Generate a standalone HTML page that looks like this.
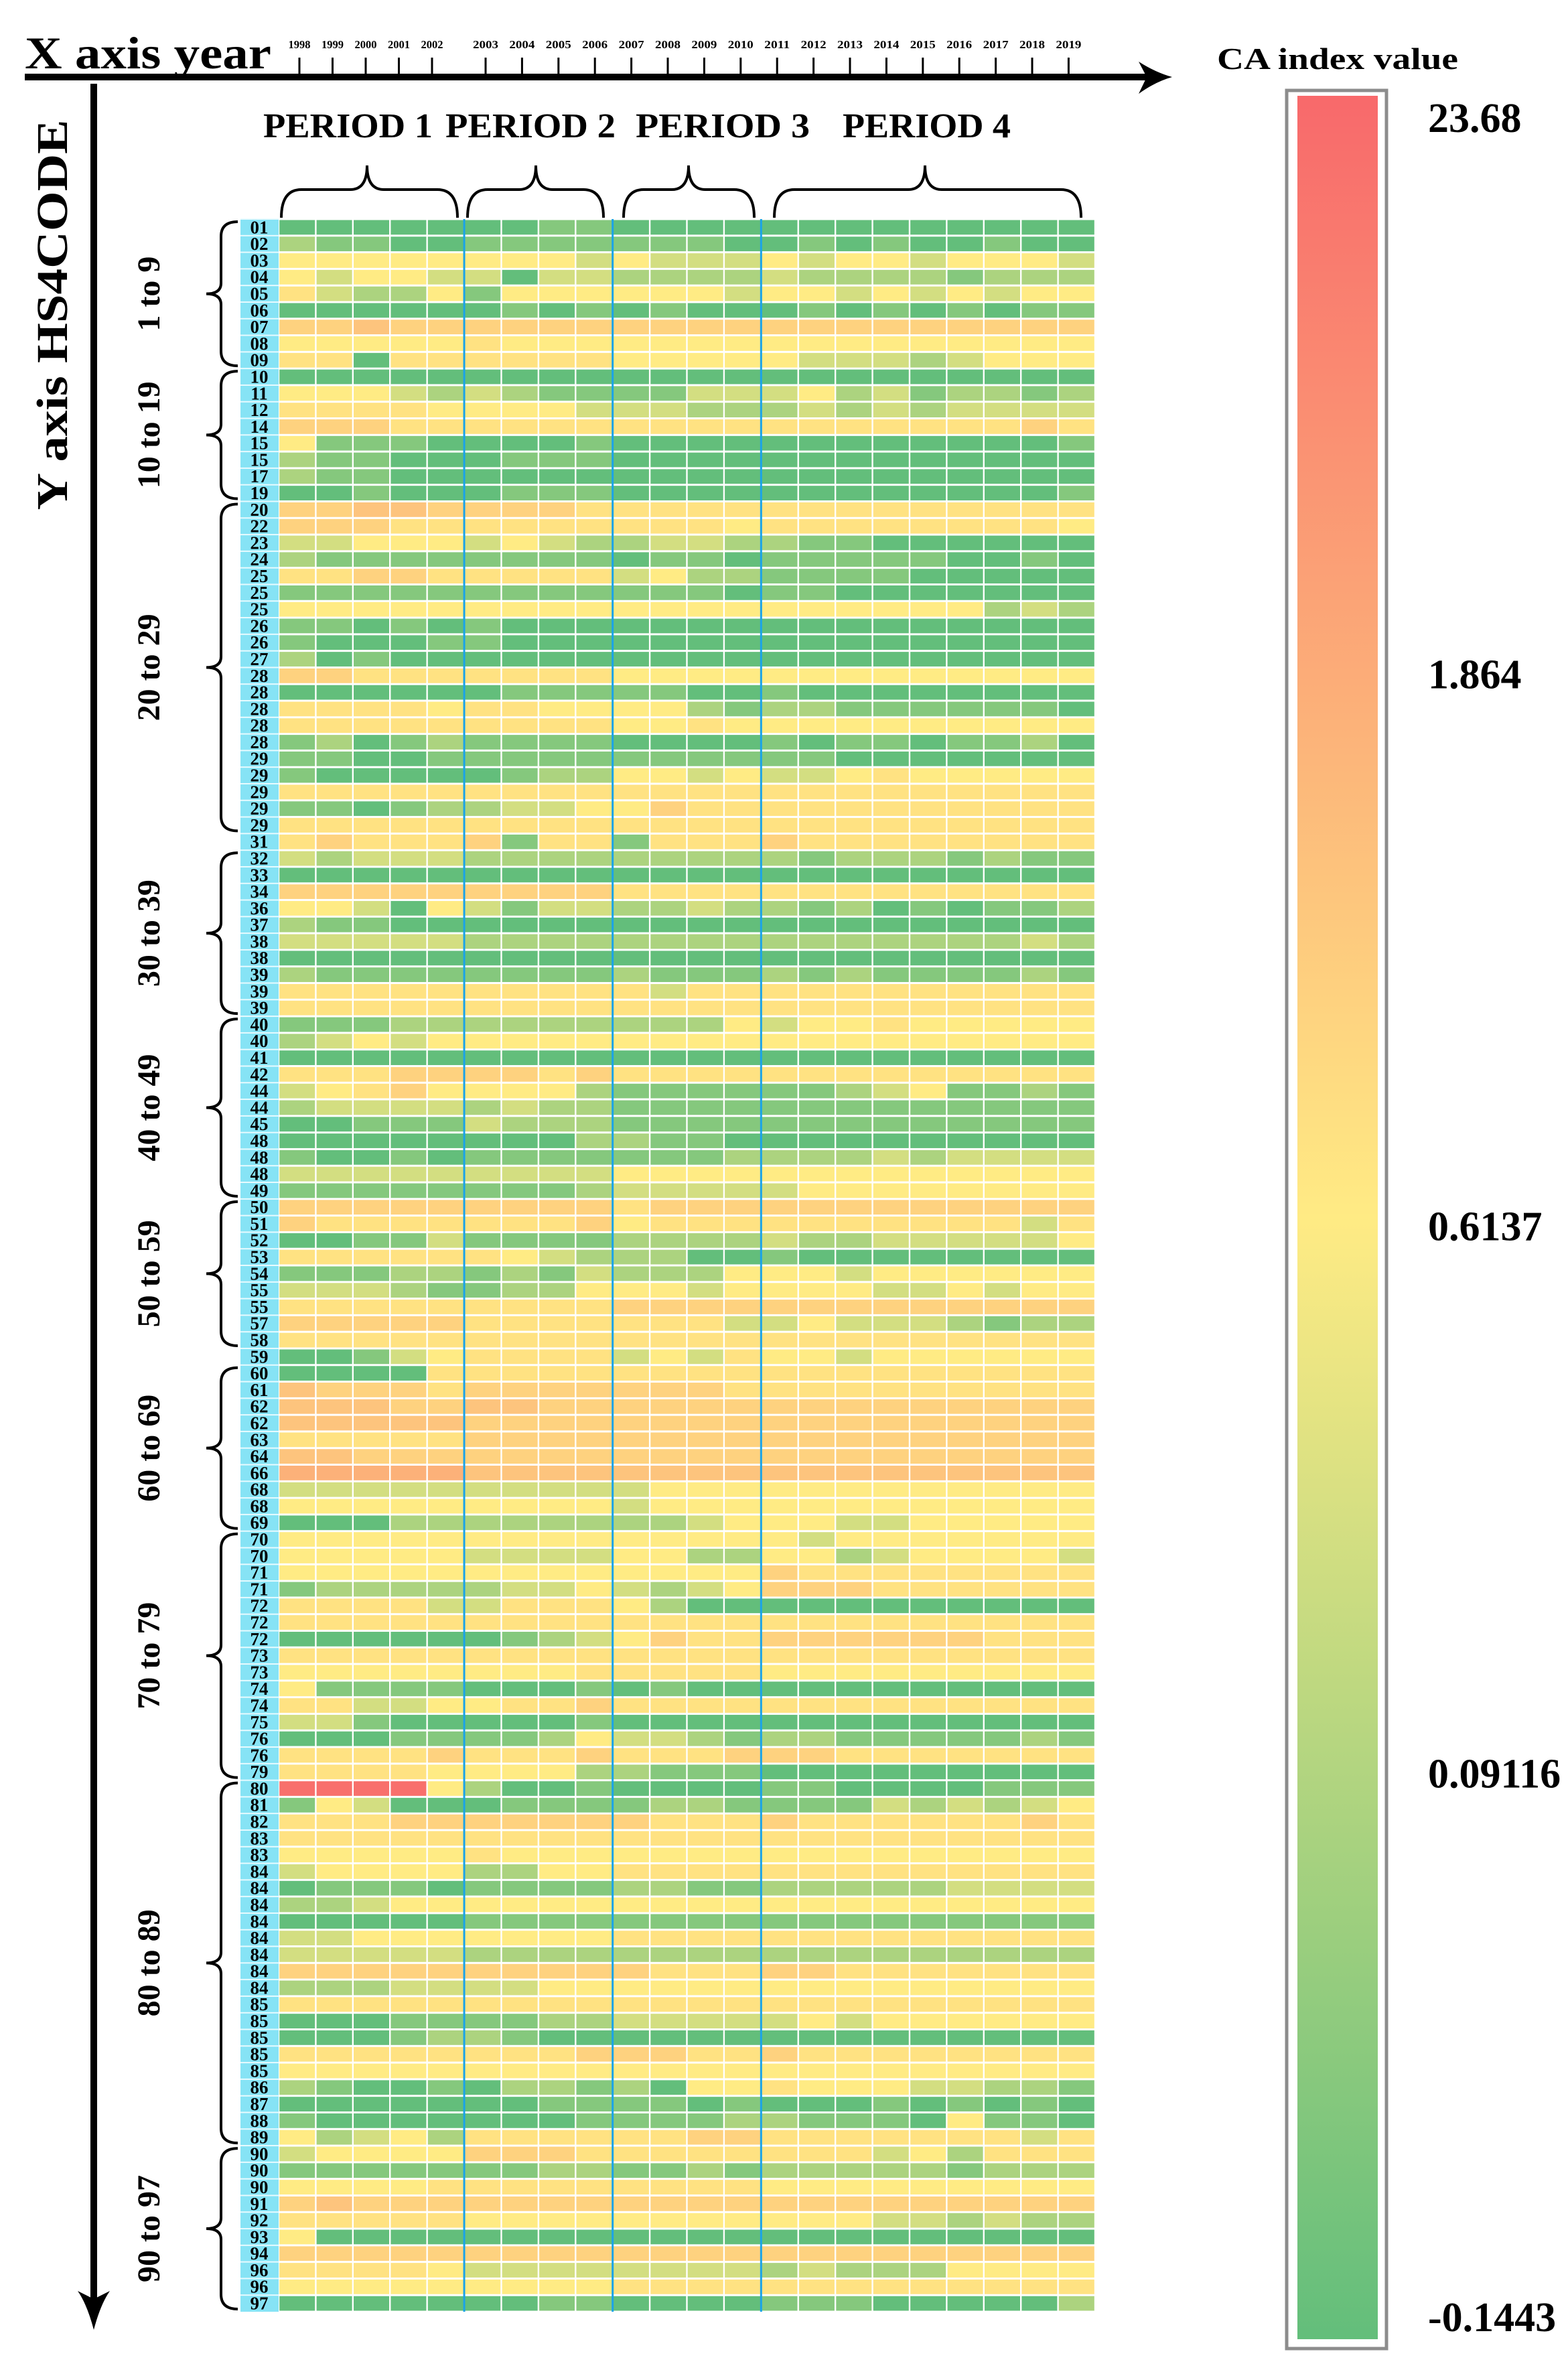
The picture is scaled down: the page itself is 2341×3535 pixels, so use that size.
<!DOCTYPE html>
<html><head><meta charset="utf-8"><title>CA index heatmap</title>
<style>
html,body{margin:0;padding:0;background:#fff;}
svg{display:block;font-family:"Liberation Serif",serif;font-weight:bold;}
</style></head>
<body>
<svg id="chart" xmlns="http://www.w3.org/2000/svg" width="2341" height="3535" viewBox="0 0 2341 3535">
  <defs>
    <linearGradient id="cbar" x1="0" y1="0" x2="0" y2="1">
      <stop offset="0" stop-color="#f8696b"/>
      <stop offset="0.5" stop-color="#ffeb84"/>
      <stop offset="1" stop-color="#63be7b"/>
    </linearGradient>
  </defs>
  <rect x="0" y="0" width="2341" height="3535" fill="#fff"/>
  <text x="37" y="102" font-size="68" textLength="368" lengthAdjust="spacingAndGlyphs">X axis year</text>
  <rect x="37" y="110" width="1680" height="10" fill="#000"/>
  <path d="M1700,92 Q1725,108 1750,115 Q1725,122 1700,140 L1712,115 Z" fill="#000"/>
  <text transform="translate(100,470) rotate(-90)" text-anchor="middle" font-size="66" textLength="583" lengthAdjust="spacingAndGlyphs">Y axis HS4CODE</text>
  <rect x="135" y="125" width="10" height="3320" fill="#000"/>
  <path d="M116,3420 Q130,3440 140,3478 Q150,3440 164,3420 L140,3432 Z" fill="#000"/>
  <text x="393" y="205" font-size="52" textLength="253" lengthAdjust="spacingAndGlyphs">PERIOD 1</text>
  <text x="665" y="205" font-size="52" textLength="254" lengthAdjust="spacingAndGlyphs">PERIOD 2</text>
  <text x="949" y="205" font-size="52" textLength="260" lengthAdjust="spacingAndGlyphs">PERIOD 3</text>
  <text x="1258" y="205" font-size="52" textLength="251" lengthAdjust="spacingAndGlyphs">PERIOD 4</text>
  <g fill="none" stroke="#000" stroke-width="4">
    <path d="M420,325 Q420,283 450,283 L523,283 Q548,283 548,247 Q548,283 573,283 L653,283 Q683,283 683,325"/>
    <path d="M698,325 Q698,283 728,283 L775,283 Q800,283 800,247 Q800,283 825,283 L871,283 Q901,283 901,325"/>
    <path d="M931,325 Q931,283 961,283 L1003,283 Q1028,283 1028,247 Q1028,283 1053,283 L1096,283 Q1126,283 1126,325"/>
    <path d="M1156,325 Q1156,283 1186,283 L1356,283 Q1381,283 1381,247 Q1381,283 1406,283 L1584,283 Q1614,283 1614,325"/>
  </g>
  <text x="1817" y="103" font-size="46" textLength="360" lengthAdjust="spacingAndGlyphs">CA index value</text>
  <rect x="1921" y="135" width="149" height="3371" fill="#fff" stroke="#8c8c8c" stroke-width="5"/>
  <rect x="1937" y="143" width="120" height="3349" fill="url(#cbar)"/>
  <g id="cbLabels" font-size="62"></g>
  <g id="heat"></g>
</svg>
<script>
const years = ["1998","1999","2000","2001","2002","2003","2004","2005","2006","2007","2008","2009","2010","2011","2012","2013","2014","2015","2016","2017","2018","2019"];
const hsCodes = ["01","02","03","04","05","06","07","08","09","10","11","12","14","15","15","17","19",
"20","22","23","24","25","25","25","26","26","27","28","28","28","28","28","29","29","29","29","29","31",
"32","33","34","36","37","38","38","39","39","39",
"40","40","41","42","44","44","45","48","48","48","49",
"50","51","52","53","54","55","55","57","58",
"59","60","61","62","62","63","64","66","68","68","69",
"70","70","71","71","72","72","72","73","73","74","74","75","76","76","79",
"80","81","82","83","83","84","84","84","84","84","84","84","84","85","85","85","85","85","86","87","88","89",
"90","90","90","91","92","93","94","96","96","97"];
const caLevels = [
"0000000110000000000000","2110011111110010100100","4444444434333434434443","4344330332222322221222",
"5322414444443443434344","0000001010100010101011","6676666666666666666666","4444454444444444444444",
"5505555554444433323444","0000000000000000000000","4443232111133342312212","5555444433322232323333",
"6665555555555555555565","4111000010000000000001","2110001110000000000000","2110000000000000000000",
"0010001110000000000001","6677666655555555555555","6665555555554555555554","3344434322332211000000",
"2111111110110111110010","5566555553422111100000","1111111111110110000000","4444444444444444444232",
"1101010000000000000000","1000110000000000000000","2010000000000000000000","6655555554444444444444",
"0000001111100100000000","5555455444421221111110","5555555554454444444444","1201211110000101101120",
"1100111111111110000000","1000001224434334544444","5555555555555555555555","1101223344655555555555",
"5555555555555555555555","5655561551555655555555","3233322222222212221211","0000000000000000000000",
"6666666665555555555555","4430431332232212010112","2110000000000000000000","3333322222222222222232",
"0000000000000000000000","2111111112111212111121","5555555555355555555555","5555555555555555555555",
"1112222222224344544444","2343444444444444444444","0000000000000000000000","5556666565555555555555",
"3456444421111112341121","2333323221111111111111","0011132221111111111111","0000000022110000000000",
"1001011111112222323333","3333333334444444444444","1111111123333344444444","6666666665666666666666",
"6555555564555555555535","0011311112222322333334","5555554322200100000000","1112212132224443444444",
"3332112244434444334344","5555555556666666666666","6666655555553343332122","5555555555555555555555",
"0013455553435443444444","0000555555555555555555","7666566666665555555555","7776677666666666666666",
"7777766666666666666666","5555566666666666666666","7766666666666666666666","8888877777777777777777",
"3333333333444444444444","4444444443444444444444","0002222222234443344444","4444444444444434444444",
"4444433334422442344443","4444444444444655555555","1222223343234666555555","5555335554200000000000",
"5555555555555555555555","0000001234655666666555","5555555555555555555555","4444444455555444444444",
"4111100010100000000000","5533445565555555555555","3310000010000000000000","0001111243321221111121",
"5555655565556665555555","5555444422111000000000","9999420010000110000111","1430001111221111323234",
"5556666666555655555565","5555555555555555555555","4444454444444444444444","3444422445555555555555",
"0111011112211222223333","2234444444444444444444","0000011111111111111111","3344444445555555555555",
"3333322222222222222222","6666666666555665555555","2223333444444444444444","5555555555555555555555",
"0001111223333343444444","0001221000000000000000","5555555566655655555555","4444444444444444444444",
"2100102212044544433221","0000000111101000101010","1000000011112211104110","4234255555566555555535",
"3444466655555555342555","1111111221121222221222","4444555555555444444444","6766666666666666666666",
"5555544444444444332322","4000000000000000000000","6666666666666666666666","5555433333333232224444",
"4444444445555555555555","0000000110000111000002"];
const rangeLabels = ["1 to 9","10 to 19","20 to 29","30 to 39","40 to 49","50 to 59","60 to 69","70 to 79","80 to 89","90 to 97"];
const rangeStart = [0,9,17,38,48,59,69,79,94,116];
const rangeEnd   = [8,16,36,47,58,67,78,93,115,125];
const cbValues = ["23.68","1.864","0.6137","0.09116","-0.1443"];
const cbPos = [0.0, 0.254, 0.5, 0.744, 0.988];

const NS = "http://www.w3.org/2000/svg";
const X0 = 416, X1 = 1635, Y0 = 327, Y1 = 3451;
const colW = (X1 - X0) / years.length;
const rowH = (Y1 - Y0) / hsCodes.length;
const xScale = i => X0 + i * colW;
const yScale = r => Y0 + r * rowH;
const cbY = p => 143 + p * 3349;
const G=[99,190,123], Yl=[255,235,132], R=[248,105,107];
function mix(a,b,t){return "rgb("+a.map((v,i)=>Math.round(v+(b[i]-v)*t)).join(",")+")";}
function levelColor(L){
  if (L <= 4) return mix(G, Yl, [0,0.22,0.47,0.72,1][L]);
  return mix(Yl, R, [0.07,0.19,0.3,0.45,0.95][L-5]);
}
function el(tag, attrs, parent){const e=document.createElementNS(NS,tag);for(const k in attrs)e.setAttribute(k,attrs[k]);parent.appendChild(e);return e;}

const heat = document.getElementById("heat");
const tickX = i => i < 5 ? 447 + 49.5 * i : 725 + (i - 5) * 54.4;
years.forEach((yr, i) => {
  const t = el("text", {x: tickX(i), y: 72, "font-size": 17, "text-anchor": "middle", textLength: i < 5 ? 33 : 38, lengthAdjust: "spacingAndGlyphs"}, heat);
  t.textContent = yr;
  
  
  const tk = el("rect", {x: tickX(i) - 1.5, y: 86, width: 3, height: 26, fill: "#000"}, heat);
  
  
});
const lc = el("rect", {x: 359, y: Y0, width: X0 - 359, height: Y1 - Y0, fill: "#86e3f5"}, heat);


hsCodes.forEach((c, r) => {
  const t = el("text", {x: 387, y: yScale(r) + rowH * 0.86, "font-size": 27, "text-anchor": "middle", fill: "#000"}, heat);
  t.textContent = c;
  
  
  const sep = el("rect", {x: 359, y: yScale(r) - 1, width: X0 - 359, height: 2, fill: "#e8fbff"}, heat);
  
  
});
caLevels.forEach((row, r) => {
  for (let i = 0; i < years.length; i++) {
    const L = parseInt(row[i], 10);
    const cell = el("rect", {x: xScale(i) + 1.2, y: yScale(r) + 1.5, width: colW - 2.4, height: rowH - 3, fill: levelColor(L)}, heat);
    
    
  }
});
[5, 9, 13].forEach(i => {
  const d = el("rect", {x: xScale(i) - 1.5, y: Y0, width: 3, height: Y1 - Y0, fill: "#1aa3e8"}, heat);
  
  
});
rangeLabels.forEach((lab, g) => {
  const y0 = yScale(rangeStart[g]) + 4, y1 = yScale(rangeEnd[g] + 1) - 4, ym = (y0 + y1) / 2;
  const p = el("path", {d: `M355,${y0} Q330,${y0} 330,${y0+22} L330,${ym-16} Q330,${ym} 308,${ym} Q330,${ym} 330,${ym+16} L330,${y1-22} Q330,${y1} 355,${y1}`, fill: "none", stroke: "#000", "stroke-width": 4}, heat);
  
  
  const t = el("text", {transform: `translate(238,${ym}) rotate(-90)`, "text-anchor": "middle", "font-size": 48}, heat);
  t.textContent = lab;
  
  
});
const cbl = document.getElementById("cbLabels");
cbValues.forEach((v, i) => {
  const t = el("text", {x: 2132, y: cbY(cbPos[i]) + 34, "font-size": 62}, cbl);
  if (i === 0) t.setAttribute("y", 197);
  if (i === 4) t.setAttribute("y", 3480);
  t.textContent = v;
  
  
});
</script>
</body></html>
